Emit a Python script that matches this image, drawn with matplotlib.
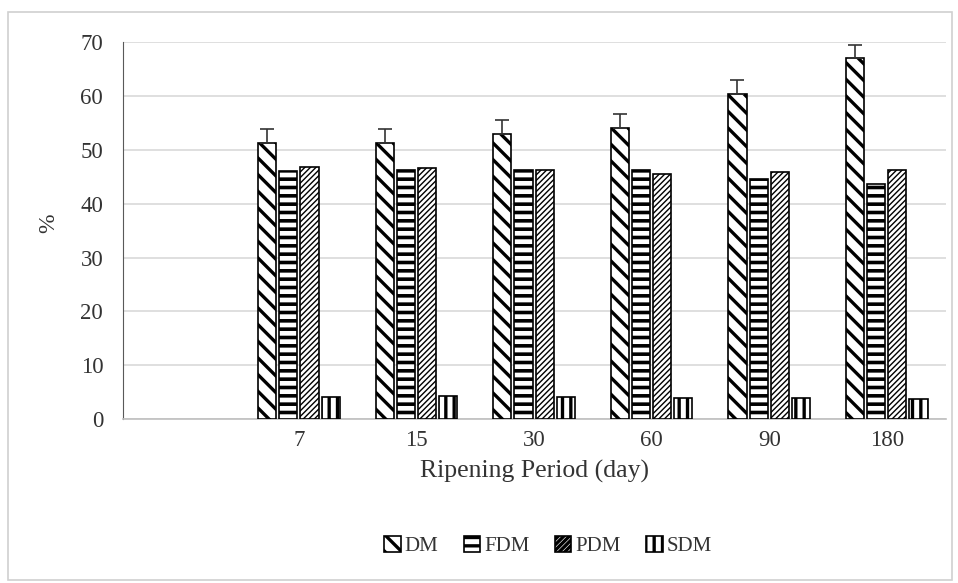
import numpy as np
import matplotlib.pyplot as plt
from matplotlib.patches import Rectangle

plt.rcParams['font.family'] = ['Liberation Serif', 'DejaVu Serif']

# data
periods = ["", "7", "15", "30", "60", "90", "180"]
dm  = [0, 51.3, 51.2, 53.0, 54.1, 60.4, 67.0]
fdm = [0, 46.0, 46.3, 46.2, 46.2, 44.5, 43.7]
pdm = [0, 46.8, 46.6, 46.3, 45.5, 45.9, 46.2]
sdm = [0, 4.1, 4.3, 4.1, 3.9, 4.0, 3.7]
dm_err = [0, 2.6, 2.6, 2.6, 2.6, 2.6, 2.4]

fig = plt.figure(figsize=(9.58, 5.83), dpi=100)
ax = fig.add_axes([0.128, 0.281, 0.859, 0.647])
fig.patches.append(Rectangle((0.008, 0.005), 0.986, 0.975, transform=fig.transFigure,
                             fill=False, ec="#d0d0d0", lw=1.2))

x = np.arange(len(periods))
w = 0.155
step = 0.18
# name, values, hatch, hatch colour, hatch line width
series = [("DM", dm, "\\\\", "black", 2.4),
          ("FDM", fdm, "--", "black", 2.6),
          ("PDM", pdm, "//////", "#7a7a7a", 1.0),
          ("SDM", sdm, "||", "black", 2.4)]
for i, (name, vals, hatch, hc, hlw) in enumerate(series):
    pos = x + (i - 1.5) * step
    mask = np.array(vals) > 0
    plt.rcParams['hatch.color'] = hc
    plt.rcParams['hatch.linewidth'] = hlw
    ax.bar(pos[mask], np.array(vals)[mask], width=w, color="white",
           edgecolor="black", linewidth=1.2, hatch=hatch, label=name, zorder=3)
    if name == "DM":
        ax.errorbar(pos[mask], np.array(vals)[mask],
                    yerr=[np.zeros(mask.sum()), np.array(dm_err)[mask]],
                    fmt="none", ecolor="#333333", elinewidth=1.2, capsize=5,
                    capthick=1.2, zorder=4)

ax.set_xlim(-0.5, len(periods) - 0.5)
ax.set_ylim(0, 70)
ax.set_yticks(range(0, 71, 10))
ax.set_xticks(x)
ax.set_xticklabels(periods)
ax.tick_params(axis="both", length=0, labelsize=16.5, labelcolor="#333333")
ax.tick_params(axis="y", pad=14)
ax.tick_params(axis="x", pad=8)
ax.yaxis.grid(True, color="#d9d9d9", lw=1.2, zorder=0)
ax.set_axisbelow(True)
for s in ["top", "right"]:
    ax.spines[s].set_visible(False)
ax.spines["left"].set_color("#595959")
ax.spines["bottom"].set_color("#bfbfbf")
ax.spines["bottom"].set_linewidth(1.2)

ax.set_xlabel("Ripening Period (day)", fontsize=18.5, color="#333333", labelpad=6)
ax.set_ylabel("%", fontsize=17, color="#333333")
ax.yaxis.set_label_coords(-0.077, 0.52)

ax.legend(loc="upper center", bbox_to_anchor=(0.517, -0.26), ncol=4, frameon=False,
          fontsize=15, handlelength=0.8, handleheight=0.8, handletextpad=0.2,
          columnspacing=1.2, labelcolor="#333333")

fig.savefig("out.png", dpi=100)
